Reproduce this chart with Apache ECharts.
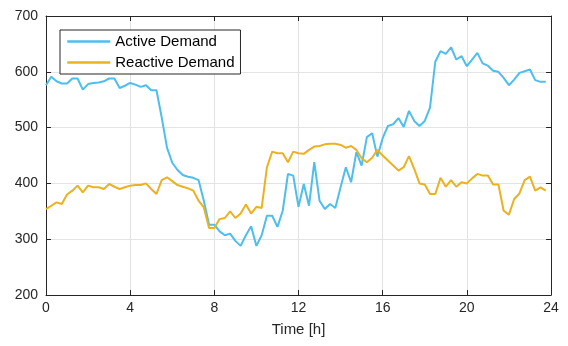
<!DOCTYPE html>
<html>
<head>
<meta charset="utf-8">
<script src="https://cdn.jsdelivr.net/npm/echarts@6/dist/echarts.min.js"></script>
<style>
  html, body { margin: 0; padding: 0; background: #fff; }
  #chart { width: 568px; height: 346px; }
</style>
</head>
<body>
<div id="chart"></div>
<script>
// Quarter-hour load profile over one day
var hours = [];
for (var i = 0; i < 96; i++) { hours.push(i / 4); }

var activeDemand = [
  576, 591, 583, 579, 579, 588, 588, 568, 578, 580, 581, 583, 588, 588, 571, 575, 580,
  577, 573, 576, 567, 567, 518, 464, 437, 424, 415, 412, 410, 406, 369, 326, 326,
  314, 307, 310, 297, 288, 307, 323, 288, 307, 342, 342, 322, 351, 417, 414, 358,
  399, 360, 438, 369, 354, 363, 356, 393, 429, 402, 456, 432, 483, 490, 448, 481,
  503, 506, 517, 501, 530, 512, 503, 512, 536, 618, 637, 632, 644, 622, 628, 610,
  622, 634, 615, 611, 602, 600, 589, 576, 586, 598, 601, 604, 585, 582, 582
];

var reactiveDemand = [
  354, 360, 366, 363, 380, 387, 396, 384, 396, 393, 393, 390, 399, 394, 390, 393, 396,
  397, 397, 400, 390, 381, 406, 411, 404, 397, 394, 391, 387, 369, 357, 320, 320,
  336, 338, 350, 338, 346, 362, 346, 358, 356, 429, 457, 454, 454, 438, 457, 454,
  453, 460, 466, 467, 470, 471, 471, 469, 464, 467, 460, 445, 438, 446, 460, 450,
  441, 432, 423, 429, 449, 426, 400, 398, 381, 381, 410, 394, 406, 394, 402, 400,
  409, 417, 414, 414, 398, 398, 351, 344, 372, 382, 406, 412, 387, 393, 387
];

var xTicks = [0, 4, 8, 12, 16, 20, 24];
var yTicks = [200, 300, 400, 500, 600, 700];

function pairs(xs, ys) {
  return ys.map(function (v, k) { return [xs[k], v]; });
}

var ink = '#262626';
var gridGray = '#e3e3e3';
var font = 'Liberation Sans, Arial, sans-serif';

function xAxis(pos, labels) {
  return {
    type: 'value', position: pos, min: xTicks[0], max: xTicks[xTicks.length - 1], interval: 4,
    axisLine: { show: true, onZero: false, lineStyle: { color: ink, width: 1 } },
    axisTick: { show: true, inside: true, length: 5, lineStyle: { color: ink } },
    axisLabel: { show: labels, color: ink, fontSize: 14, fontFamily: font, margin: 6 },
    splitLine: { show: labels, lineStyle: { color: gridGray, width: 1 } },
    name: labels ? 'Time [h]' : '', nameLocation: 'middle', nameGap: 27,
    nameTextStyle: { color: ink, fontSize: 15, fontFamily: font }
  };
}

function yAxis(pos, labels) {
  return {
    type: 'value', position: pos, min: yTicks[0], max: yTicks[yTicks.length - 1], interval: 100,
    axisLine: { show: true, onZero: false, lineStyle: { color: ink, width: 1 } },
    axisTick: { show: true, inside: true, length: 5, lineStyle: { color: ink } },
    axisLabel: { show: labels, color: ink, fontSize: 14, fontFamily: font, margin: 8 },
    splitLine: { show: labels, lineStyle: { color: gridGray, width: 1 } }
  };
}

var chart = echarts.init(document.getElementById('chart'), null, { renderer: 'canvas' });
chart.setOption({
  animation: false,
  backgroundColor: '#ffffff',
  grid: { left: 46, right: 17, top: 16, bottom: 51, containLabel: false },
  xAxis: [xAxis('bottom', true), xAxis('top', false)],
  yAxis: [yAxis('left', true), yAxis('right', false)],
  legend: {
    left: 60, top: 30, orient: 'vertical',
    backgroundColor: '#ffffff', borderColor: ink, borderWidth: 1, borderRadius: 0,
    padding: [4, 6, 4, 6], itemGap: 6, itemWidth: 43, itemHeight: 15,
    itemStyle: { opacity: 0 },
    lineStyle: { width: 2.5 },
    textStyle: { color: '#000', fontSize: 15, fontFamily: font },
    data: ['Active Demand', 'Reactive Demand']
  },
  series: [
    {
      name: 'Active Demand', type: 'line', symbol: 'none', xAxisIndex: 0, yAxisIndex: 0,
      data: pairs(hours, activeDemand),
      lineStyle: { color: '#4DBEEE', width: 2 }, itemStyle: { color: '#4DBEEE' }
    },
    {
      name: 'Reactive Demand', type: 'line', symbol: 'none', xAxisIndex: 0, yAxisIndex: 0,
      data: pairs(hours, reactiveDemand),
      lineStyle: { color: '#EDB120', width: 2 }, itemStyle: { color: '#EDB120' }
    }
  ]
});
</script>
</body>
</html>
